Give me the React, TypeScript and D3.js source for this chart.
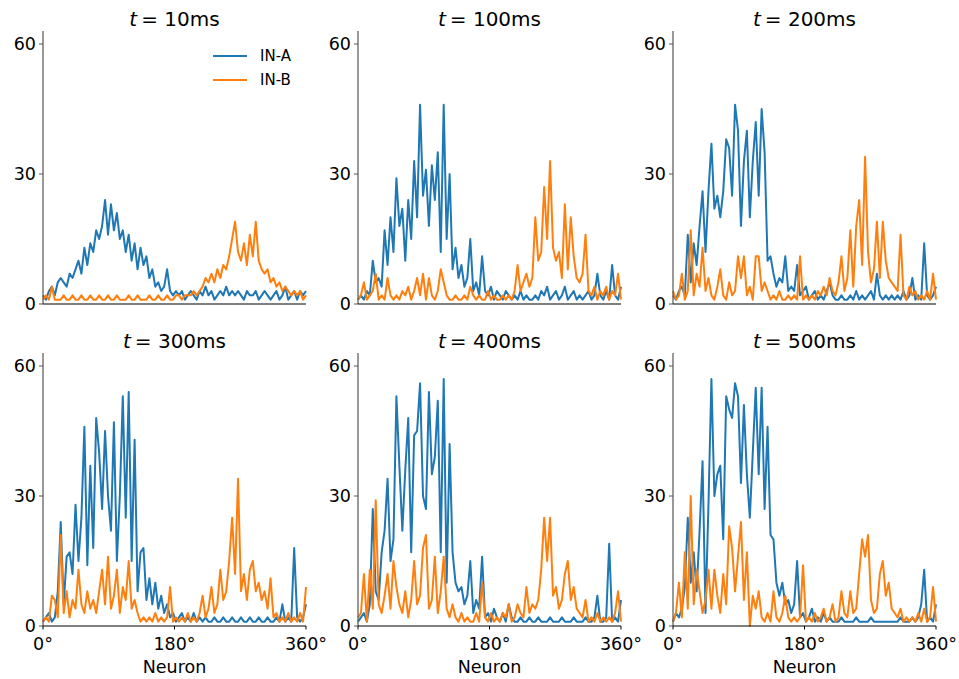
import React, { useEffect } from "react";
import * as d3 from "d3";

// firing rate per neuron (every 4 degrees)
const times = [10, 100, 200, 300, 400, 500];
const seriesNames = ["IN-A", "IN-B"];
const colors = ["#1f77b4", "#ff7f0e"];
const yTicks = [0, 30, 60];
const xTicks = [0, 180, 360];

const inA10 = [2,1,3,4,2,5, 6,5,4,7,6, 8,10,7,13,9, 14,12,17,15,18, 24,16,23,17,21, 15,17,12,16,10, 14,8,13,9,11, 6,8,4,5,3, 4,8,3,2,3, 2,3,1,2,3, 2,1,3,2,4, 2,3,1,2,3, 2,4,2,3,2, 3,2,1,3,2, 2,3,1,2,3, 2,1,2,3,1, 2,4,1,2,3, 1,3,2,3];
const inB10 = [1,2,1,4,1,1, 1,2,1,1,2, 1,1,2,1,1, 2,1,1,2,1, 1,2,1,1,2, 1,1,1,2,1, 1,2,1,1,1, 2,1,1,2,1, 1,2,1,1,2, 2,1,2,2,2, 3,2,3,4,6, 5,7,5,8,6, 9,8,11,15,19, 12,10,14,9,16, 11,19,10,8,7, 8,5,6,4,5, 3,4,3,2,3, 2,3,1,2];
const inA100 = [1,2,1,3,2,10, 5,6,4,17,9, 20,12,29,18,22, 10,24,15,33,20, 46,25,31,18,32, 24,35,12,46,15, 30,8,13,6,9, 4,6,15,3,5, 2,11,3,2,4, 1,3,2,1,3, 2,1,2,1,3, 1,2,1,1,2, 1,3,2,4,1, 2,3,1,2,4, 1,2,3,1,2, 1,2,3,1,2, 7,2,1,3,1, 9,2,1,4];
const inB100 = [1,2,5,1,2,3, 7,1,2,1,6, 2,1,2,1,3, 2,4,1,3,6, 2,7,1,6,2, 1,3,8,5,2, 1,1,2,1,1, 2,1,4,2,1, 2,1,1,3,1, 2,1,1,2,1, 2,1,3,9,3, 5,7,4,6,20, 10,12,27,15,33, 13,10,12,6,23, 8,20,11,6,5, 7,16,3,2,4, 1,3,2,4,1, 3,2,7,1];
const inA200 = [2,1,3,4,2,16, 5,14,9,18,26, 12,26,37,22,25, 20,26,38,36,25, 46,40,18,33,40, 20,33,42,25,45, 35,10,11,7,4, 6,5,11,3,4, 3,9,2,3,4, 1,2,3,1,2, 1,3,5,2,1, 1,2,1,1,2, 1,3,1,2,1, 2,3,1,7,2, 1,2,1,2,1, 2,1,3,1,2, 6,1,2,1,14, 2,1,2,4];
const inB200 = [3,1,2,7,1,3, 17,2,7,4,13, 3,6,2,1,4, 8,2,1,5,2, 3,11,6,11,2, 4,1,11,11,3, 5,3,1,2,1, 3,1,1,2,1, 2,1,11,1,2, 1,2,1,3,2, 4,2,6,3,2, 5,11,3,6,17, 4,18,24,9,34, 12,5,8,19,6, 19,10,6,5,4, 3,16,2,1,4, 2,3,1,2,1, 3,1,7,1];
const inA300 = [1,2,3,1,2,8, 24,5,16,17,12, 28,15,25,46,14, 37,18,48,40,27, 45,30,22,47,15, 30,53,25,54,15, 43,8,17,18,6, 11,5,10,4,7, 3,5,2,3,1, 2,3,1,2,1, 3,1,2,1,2, 1,1,2,1,1, 2,1,1,2,1, 1,2,1,1,2, 1,1,2,1,1, 2,1,1,2,1, 5,1,2,1,18, 2,1,2,5];
const inB300 = [1,2,1,7,6,2, 21,3,8,2,6, 4,13,5,3,8, 4,6,3,8,13, 5,16,4,7,13, 3,9,6,15,4, 6,3,1,2,1, 2,1,3,1,2, 1,2,9,1,2, 1,2,1,3,1, 2,1,3,7,2, 4,9,3,5,13, 6,8,15,25,12, 34,8,12,6,13, 15,8,10,6,8, 4,11,2,3,1, 2,1,3,1,2, 1,3,1,9];
const inA400 = [1,2,3,1,5,27, 8,6,17,22,34, 15,20,53,37,22, 36,48,17,44,45, 56,30,27,54,35, 39,52,17,57,10, 42,17,10,8,9, 5,7,15,3,6, 4,16,2,3,1, 4,2,1,3,1, 5,2,1,1,2, 1,1,2,1,1, 2,1,1,1,2, 1,1,1,2,1, 1,1,2,1,1, 1,2,1,1,2, 7,1,1,2,19, 1,2,1,6];
const inB400 = [2,3,12,1,13,4, 29,5,3,7,12, 4,15,9,5,3, 8,2,6,15,5, 7,18,21,4,6, 16,3,8,16,4, 2,5,2,1,3, 1,2,1,1,3, 1,10,2,1,3, 1,2,1,3,2, 5,1,2,5,3, 2,9,3,5,4, 6,13,25,15,25, 7,9,4,6,12, 15,6,9,4,3, 2,6,1,2,1, 3,1,2,1,2, 1,3,8,1];
const inA500 = [1,3,2,4,9,25, 10,17,8,22,38, 3,28,57,30,35, 37,20,53,50,48, 56,53,33,51,35, 25,40,55,35,55, 27,46,21,20,10, 7,10,5,6,3, 5,15,2,3,1, 2,4,1,2,1, 3,1,2,1,1, 1,2,1,1,1, 1,2,1,1,1, 1,2,1,1,1, 1,1,1,1,1, 1,2,1,1,1, 2,1,2,5,13, 1,2,1,5];
const inB500 = [1,3,10,2,17,4, 30,5,13,8,3, 6,13,4,13,7, 3,12,5,23,18, 8,16,24,6,17, 0,7,4,8,2, 1,3,1,8,2, 1,3,7,2,1, 2,1,2,14,1, 2,1,3,1,2, 4,1,2,5,1, 2,8,3,2,8, 3,4,12,20,16, 21,6,3,4,12, 15,7,10,4,3, 2,4,1,2,1, 2,1,3,1,4, 1,2,9,1];

const inA = [inA10, inA100, inA200, inA300, inA400, inA500];
const inB = [inB10, inB100, inB200, inB300, inB400, inB500];

const W = 959;
const H = 679;
const colX = [43, 358, 673];
const rowY = [304, 626];
const pw = 263;
const ph = 273;
const font = "DejaVu Sans, sans-serif";
const tickSize = 17.5;

const Panel = ({ k }: { k: number }) => {
  const x0 = colX[k % 3];
  const y0 = rowY[Math.floor(k / 3)];
  const bottom = k >= 3;

  const x = d3.scaleLinear().domain([0, 360]).range([x0, x0 + pw]);
  const y = d3.scaleLinear().domain([0, 63]).range([y0, y0 - ph]);

  const line = (vals: number[]) =>
    d3
      .line<number>()
      .x((_, i) => x((i * 360) / (vals.length - 1)))
      .y((d) => y(d))(vals) || "";

  const series = [inA[k], inB[k]];

  return (
    <g>
      {series.map((vals, s) => (
        <path
          key={s}
          d={line(vals)}
          fill="none"
          stroke={colors[s]}
          strokeWidth={2}
          strokeLinejoin="round"
        />
      ))}
      {/* spines */}
      <line x1={x0} x2={x0} y1={y0} y2={y(63)} stroke="#555" strokeWidth={1.2} />
      <line x1={x0} x2={x0 + pw} y1={y0} y2={y0} stroke="#000" strokeWidth={1.2} />
      {yTicks.map((t) => (
        <g key={t}>
          <line x1={x0 - 4} x2={x0} y1={y(t)} y2={y(t)} stroke="#555" strokeWidth={1} />
          <text
            x={x0 - 7}
            y={y(t)}
            textAnchor="end"
            dominantBaseline="central"
            fontSize={tickSize}
            fontFamily={font}
          >
            {t}
          </text>
        </g>
      ))}
      {bottom &&
        xTicks.map((t) => (
          <g key={t}>
            <line x1={x(t)} x2={x(t)} y1={y0} y2={y0 + 3.5} stroke="#000" strokeWidth={1} />
            <text
              x={x(t)}
              y={y0 + 18}
              textAnchor="middle"
              dominantBaseline="central"
              fontSize={tickSize}
              fontFamily={font}
            >
              {t}°
            </text>
          </g>
        ))}
      {bottom && (
        <text
          x={x0 + pw / 2}
          y={y0 + 41}
          textAnchor="middle"
          dominantBaseline="central"
          fontSize={tickSize}
          fontFamily={font}
        >
          Neuron
        </text>
      )}
      <text
        x={x0 + pw / 2}
        y={y(63) - 12}
        textAnchor="middle"
        dominantBaseline="central"
        fontSize={20}
        fontFamily={font}
      >
        <tspan fontStyle="italic">t</tspan>
        <tspan>{"\u2009= " + times[k]}ms</tspan>
      </text>
    </g>
  );
};

const Legend = () => {
  const lx = 213;
  return (
    <g>
      {seriesNames.map((name, i) => (
        <g key={name}>
          <line
            x1={lx}
            x2={lx + 34}
            y1={56 + i * 24}
            y2={56 + i * 24}
            stroke={colors[i]}
            strokeWidth={2}
          />
          <text
            x={lx + 47}
            y={56 + i * 24}
            dominantBaseline="central"
            fontSize={15}
            fontFamily={font}
          >
            {name}
          </text>
        </g>
      ))}
    </g>
  );
};

export default function App() {
  useEffect(() => {
    document.body.style.margin = "0";
  }, []);

  return (
    <svg
      width={W}
      height={H}
      viewBox={`0 0 ${W} ${H}`}
      style={{ position: "absolute", left: 0, top: 0, background: "#fff" }}
    >
      {times.map((_, k) => (
        <Panel key={k} k={k} />
      ))}
      <Legend />
    </svg>
  );
}
